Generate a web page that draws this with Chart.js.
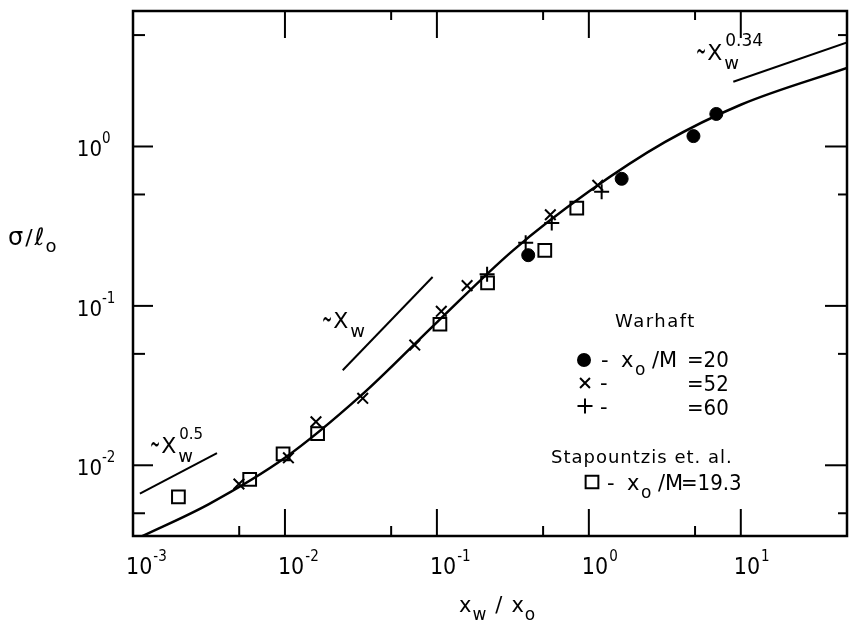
<!DOCTYPE html>
<html lang="en">
<head>
    <meta charset="UTF-8" />
    <title>sigma / l0 vs xw / x0</title>
    <script src="https://cdn.jsdelivr.net/npm/chart.js"></script>
    <style>
        html, body { margin: 0; padding: 0; background: #fff; }
        #chart { display: block; }
    </style>
</head>
<body>
<canvas id="chart" width="858" height="623"></canvas>

<script>
    // Warhaft, x0/M = 20 (filled circles)
    const circleX = [0.399, 1.644, 4.88, 6.90];
    const circleY = [0.208, 0.627, 1.162, 1.60];

    // Warhaft, x0/M = 52 (x)
    const crossX = [0.00498, 0.01054, 0.0160, 0.0325, 0.0715, 0.1069, 0.158, 0.558, 1.145];
    const crossY = [0.00763, 0.01114, 0.01875, 0.0263, 0.0568, 0.0925, 0.134, 0.373, 0.571];

    // Warhaft, x0/M = 60 (+)
    const plusX = [0.214, 0.384, 0.570, 1.214];
    const plusY = [0.158, 0.249, 0.331, 0.520];

    // Stapountzis et. al., x0/M = 19.3 (open squares)
    const squareX = [0.00199, 0.00586, 0.00972, 0.0164, 0.1047, 0.2155, 0.513, 0.833];
    const squareY = [0.00634, 0.00815, 0.0118, 0.0158, 0.0767, 0.1396, 0.2233, 0.411];

    // fitted curve
    const curveX = [0.00112, 0.00316, 0.01, 0.0316, 0.1, 0.316, 1, 3.16, 10, 50];
    const curveY = [0.00355, 0.00571, 0.01114, 0.02735, 0.0789, 0.2223, 0.5212, 1.064, 1.828, 3.11];

    // power law guide lines
    const halfX = [0.00111, 0.00357];
    const halfY = [0.00665, 0.0119];
    const oneX = [0.0240, 0.0937];
    const oneY = [0.0395, 0.1517];
    const thirdX = [8.93, 50];
    const thirdY = [2.55, 4.5];

    // axes
    const xMajorTicks = [1e-3, 1e-2, 1e-1, 1, 10];
    const xTickExp = ['-3', '-2', '-1', '0', '1'];
    const xMinorTicks = [5e-3, 5e-2, 0.5, 5];
    const yMajorTicks = [1e-2, 1e-1, 1];
    const yTickExp = ['-2', '-1', '0'];
    const yMinorTicks = [5e-3, 5e-2, 0.5, 5];

    const pts = (xs, ys) => xs.map((v, i) => ({ x: v, y: ys[i] }));
    const FONT = '"DejaVu Sans", "Liberation Sans", sans-serif';
    const NUM_FONT = '"DejaVu Sans Condensed", "DejaVu Sans", sans-serif';

    function text(ctx, s, x, y, size, font) {
        ctx.font = `${size}px ${font || FONT}`;
        ctx.fillText(s, x, y);
        return ctx.measureText(s).width;
    }

    const frame = {
        id: 'frame',
        afterDraw(chart) {
            const { ctx, chartArea: a } = chart;
            const sx = chart.scales.x, sy = chart.scales.y;
            ctx.save();
            ctx.strokeStyle = '#000';
            ctx.fillStyle = '#000';
            ctx.lineWidth = 2.5;
            ctx.strokeRect(a.left, a.top, a.right - a.left, a.bottom - a.top);

            // inward ticks on all four sides
            ctx.lineWidth = 2;
            const seg = (x1, y1, x2, y2) => { ctx.beginPath(); ctx.moveTo(x1, y1); ctx.lineTo(x2, y2); ctx.stroke(); };
            xMajorTicks.forEach(v => {
                const p = sx.getPixelForValue(v);
                seg(p, a.bottom, p, a.bottom - 27);
                seg(p, a.top, p, a.top + 27);
            });
            xMinorTicks.forEach(v => {
                const p = sx.getPixelForValue(v);
                seg(p, a.bottom, p, a.bottom - 10);
                if (v > 0.006) seg(p, a.top, p, a.top + 9);
            });
            yMajorTicks.forEach(v => {
                const p = sy.getPixelForValue(v);
                seg(a.left, p, a.left + 20, p);
                seg(a.right, p, a.right - 22, p);
            });
            yMinorTicks.forEach(v => {
                const p = sy.getPixelForValue(v);
                seg(a.left, p, a.left + 12, p);
                seg(a.right, p, a.right - 9, p);
            });

            // tick labels, 10 with superscript
            ctx.textBaseline = 'alphabetic';
            ctx.textAlign = 'left';
            xMajorTicks.forEach((v, i) => {
                const p = sx.getPixelForValue(v);
                const w = text(ctx, '10', p - 7, a.bottom + 38, 23, NUM_FONT);
                text(ctx, xTickExp[i], p - 6 + w, a.bottom + 25, 15, NUM_FONT);
            });
            yMajorTicks.forEach((v, i) => {
                const p = sy.getPixelForValue(v);
                ctx.font = `22px ${NUM_FONT}`;
                const w = ctx.measureText('10').width;
                text(ctx, '10', 102 - w, p + 10, 22, NUM_FONT);
                text(ctx, yTickExp[i], 102, p - 3, 15, NUM_FONT);
            });

            // axis titles
            let cx = 8;
            cx += text(ctx, '\u03c3', cx, 245, 24);
            cx += text(ctx, '/', cx + 2, 245, 22) + 4;
            cx += text(ctx, '\u2113', cx, 245, 24);
            text(ctx, 'o', cx + 1, 252, 18);

            cx = 459;
            cx += text(ctx, 'x', cx, 612, 21);
            cx += text(ctx, 'w', cx + 1, 620, 17) + 10;
            cx += text(ctx, '/', cx, 612, 21) + 9;
            cx += text(ctx, 'x', cx, 612, 21);
            text(ctx, 'o', cx + 1, 620, 17);

            // power law labels: tilde (stretched), X, subscript w, superscript exponent
            const power = (x, y, exp, expSize) => {
                ctx.save();
                ctx.translate(x, y + 1);
                ctx.scale(0.55, 1.4);
                const tw = text(ctx, '\u223c', 0, 0, 22) * 0.55;
                ctx.restore();
                const w = tw + 1 + text(ctx, 'X', x + tw + 1, y, 22);
                text(ctx, 'w', x + w + 2, y + 9, 18);
                if (exp) text(ctx, exp, x + w + 3, y - 14, expSize);
            };
            power(150, 453, '0.5', 15);
            power(322, 328, null, 15);
            power(696, 60, '0.34', 17);

            // legend
            ctx.letterSpacing = '1.5px';
            text(ctx, 'Warhaft', 615, 327, 18);
            ctx.letterSpacing = '1px';
            text(ctx, 'Stapountzis et. al.', 551, 463, 18);
            ctx.letterSpacing = '0px';

            const mark = (style, r, x, y, fill) => {
                ctx.fillStyle = fill;
                Chart.helpers.drawPoint(ctx, { pointStyle: style, radius: r, rotation: 0, borderWidth: 2 }, x, y);
                ctx.fillStyle = '#000';
            };
            ctx.lineWidth = 2;
            mark('circle', 6, 584, 360, '#000');
            mark('crossRot', 7, 585, 383, '#000');
            mark('cross', 7.5, 585, 406, '#000');
            mark('rect', 9, 592, 482, 'rgba(0,0,0,0)');

            const rowLabel = (y, withRatio, x0) => {
                text(ctx, '-', x0, y, 21);
                if (withRatio) {
                    text(ctx, 'x', x0 + 20, y, 21);
                    text(ctx, 'o', x0 + 34, y + 8, 17);
                    text(ctx, '/M', x0 + 51, y, 21);
                }
            };
            rowLabel(367, true, 601);
            rowLabel(390, false, 600);
            rowLabel(414, false, 600);
            rowLabel(490, true, 607);
            text(ctx, '=20', 687, 367, 22, NUM_FONT);
            text(ctx, '=52', 687, 391, 22, NUM_FONT);
            text(ctx, '=60', 687, 415, 22, NUM_FONT);
            text(ctx, '=19.3', 681, 490, 22, NUM_FONT);
            ctx.restore();
        }
    };

    new Chart(document.getElementById('chart'), {
        type: 'scatter',
        data: {
            datasets: [
                {
                    type: 'line', data: pts(curveX, curveY), borderColor: '#000', borderWidth: 2.5,
                    pointRadius: 0, cubicInterpolationMode: 'monotone', fill: false
                },
                { type: 'line', data: pts(halfX, halfY), borderColor: '#000', borderWidth: 2, pointRadius: 0 },
                { type: 'line', data: pts(oneX, oneY), borderColor: '#000', borderWidth: 2, pointRadius: 0 },
                { type: 'line', data: pts(thirdX, thirdY), borderColor: '#000', borderWidth: 2, pointRadius: 0 },
                {
                    data: pts(circleX, circleY), pointStyle: 'circle', pointRadius: 6.5,
                    backgroundColor: '#000', borderColor: '#000', borderWidth: 1
                },
                {
                    data: pts(crossX, crossY), pointStyle: 'crossRot', pointRadius: 7.5,
                    borderColor: '#000', borderWidth: 2
                },
                {
                    data: pts(plusX, plusY), pointStyle: 'cross', pointRadius: 7.5,
                    borderColor: '#000', borderWidth: 2
                },
                {
                    data: pts(squareX, squareY), pointStyle: 'rect', pointRadius: 9,
                    backgroundColor: 'rgba(0,0,0,0)', borderColor: '#000', borderWidth: 2
                }
            ]
        },
        options: {
            responsive: false,
            animation: false,
            devicePixelRatio: 1,
            layout: { padding: { top: 10, right: 5, left: 0, bottom: 0 } },
            plugins: { legend: { display: false }, tooltip: { enabled: false } },
            scales: {
                x: {
                    type: 'logarithmic', min: 0.001, max: 50,
                    ticks: { display: false }, grid: { display: false }, border: { display: false },
                    afterFit: s => { s.height = 87; }
                },
                y: {
                    type: 'logarithmic', min: 0.0036, max: 7.08,
                    ticks: { display: false }, grid: { display: false }, border: { display: false },
                    afterFit: s => { s.width = 133; }
                }
            }
        },
        plugins: [frame]
    });
</script>
</body>
</html>
